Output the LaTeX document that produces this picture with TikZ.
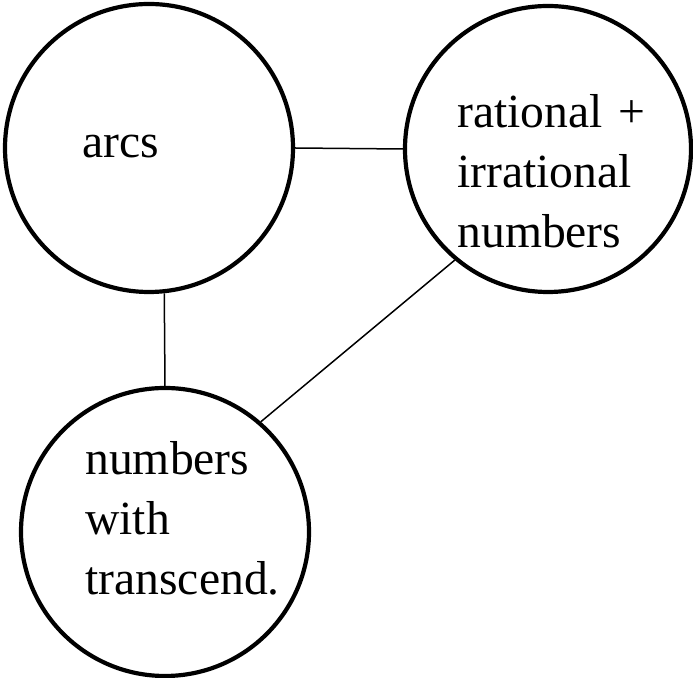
\documentclass[tikz,border=0pt]{standalone}
\usepackage{fontspec}
\setmainfont{Liberation Serif}
\usetikzlibrary{positioning}

\begin{document}
\begin{tikzpicture}[
    x=0.5pt, y=-0.5pt,
    topic/.style={circle,draw,line width=2.1pt,minimum size=144pt,inner sep=0pt},
    lbl/.style={anchor=base west,inner sep=0pt,text width=100pt,align=left,
      font=\fontsize{23.8}{30}\selectfont},
    link/.style={line width=0.75pt}
  ]
    \useasboundingbox (0,0) rectangle (693,678);
    \node[topic] (arcs) at (149,148) {};
    \node[topic,minimum size=143pt] (rational) at (548,149) {};
    \node[topic] (transc) at (165,532) {};

    \node[lbl] (arcstext) at (82,158) {arcs};
    \node[lbl] (rationaltext) at (457,128) {rational +\\irrational\\numbers};
    \node[lbl] (transctext) at (85,475) {numbers\\with\\transcend.};

    \draw[link] (arcs.0) -- (rational.180);
    \draw[link] (arcs.276) -- (transc.90);
    \draw[link] (rational.230) -- (transc.49);
\end{tikzpicture}
\end{document}
